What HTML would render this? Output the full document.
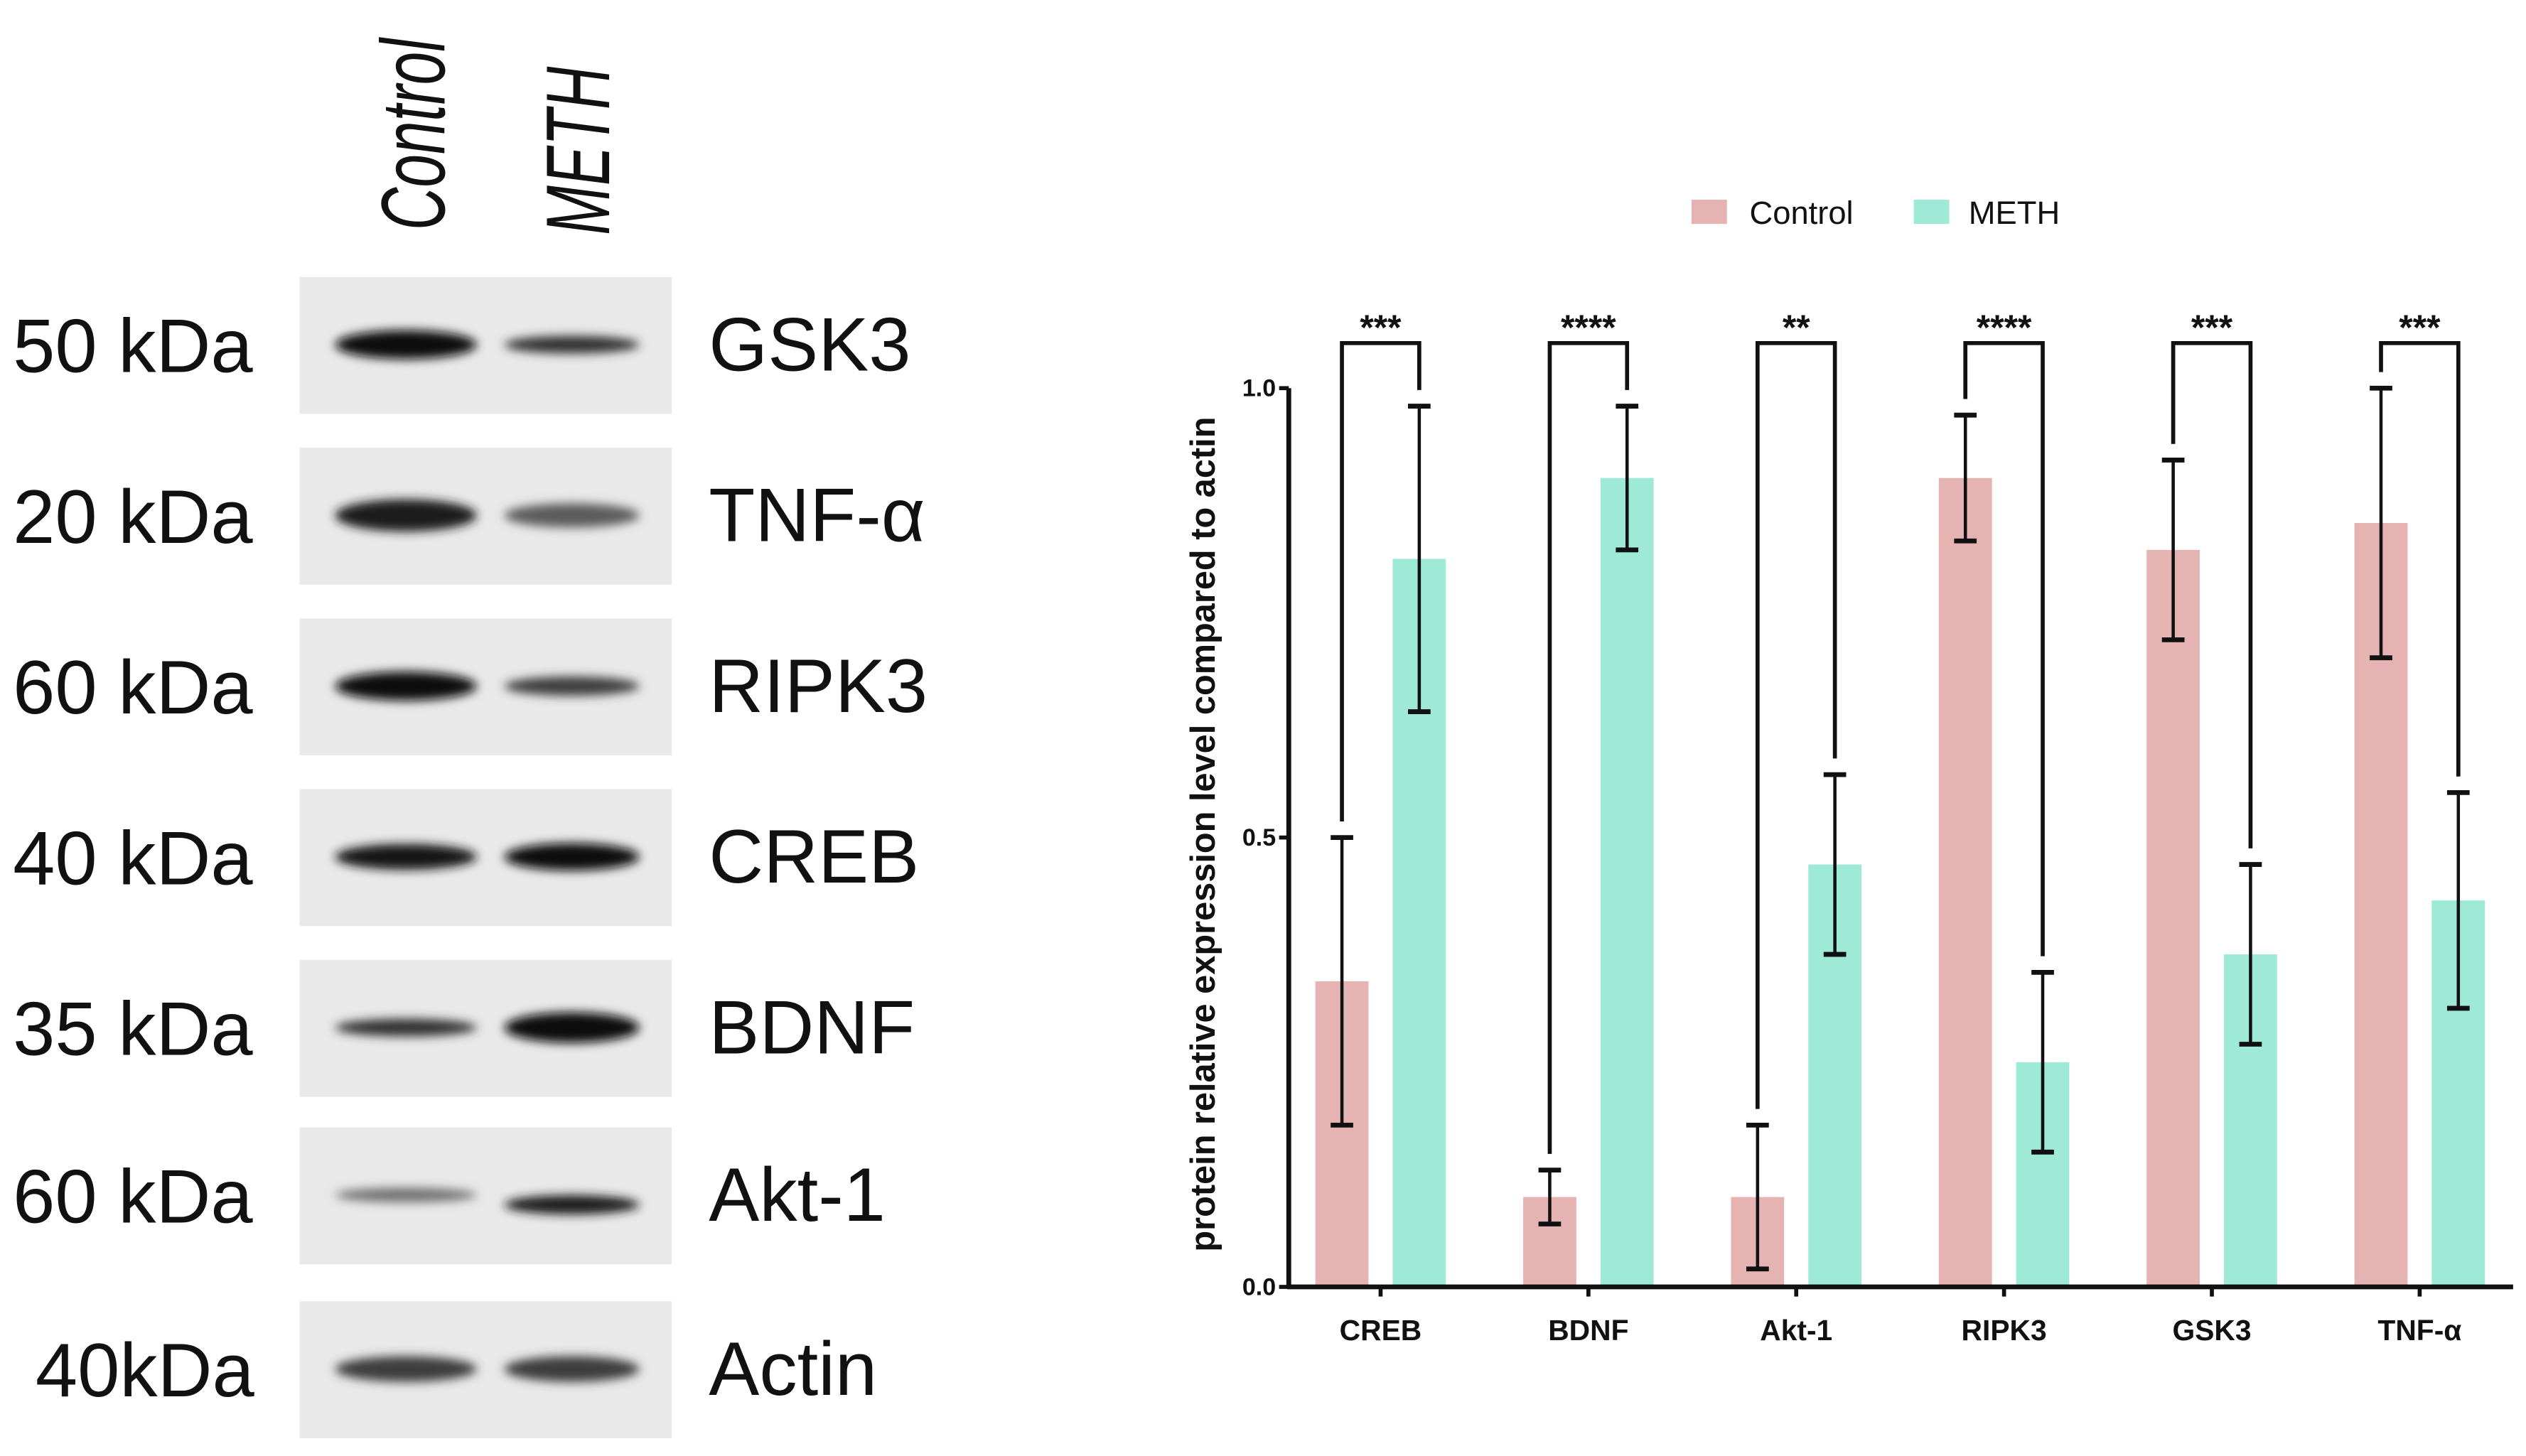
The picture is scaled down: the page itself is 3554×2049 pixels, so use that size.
<!DOCTYPE html>
<html><head><meta charset="utf-8"><style>
html,body{margin:0;padding:0;background:#fff;}
svg{display:block;}
</style></head><body>
<svg id="fig" width="3554" height="2049" viewBox="0 0 1568 904" preserveAspectRatio="none" xmlns="http://www.w3.org/2000/svg" font-family="Liberation Sans, Arial, sans-serif">
<defs>
<filter id="blur" x="-30%" y="-100%" width="160%" height="300%"><feGaussianBlur stdDeviation="3"/></filter>
</defs>
<g id="blot">
<text transform="translate(276,143) rotate(-90) scale(0.66,1)" font-size="56" font-style="italic" fill="#111">Control</text>
<text transform="translate(378,146) rotate(-90) scale(0.66,1)" font-size="56" font-style="italic" fill="#111">METH</text>
</g>
<g id="chart"></g>
<script>
const categories = ["CREB","BDNF","Akt-1","RIPK3","GSK3","TNF-α"];
const controlValues = [0.34,0.10,0.10,0.90,0.82,0.85];
const methValues = [0.81,0.90,0.47,0.25,0.37,0.43];
const controlErr = [0.16,0.03,0.08,0.07,0.10,0.15];
const methErr = [0.17,0.08,0.10,0.10,0.10,0.12];
const sigLabels = ["***","****","**","****","***","***"];
const yTicks = [0.0,0.5,1.0];
const yTickLabels = ["0.0","0.5","1.0"];
const blotProteins = ["GSK3","TNF-α","RIPK3","CREB","BDNF","Akt-1","Actin"];
const blotWeights = ["50 kDa","20 kDa","60 kDa","40 kDa","35 kDa","60 kDa","40kDa"];
const ctrlIntensity = [0.95,0.85,0.95,0.9,0.75,0.45,0.7];
const methIntensity = [0.75,0.55,0.7,0.95,0.95,0.85,0.7];

const NS="http://www.w3.org/2000/svg";
function mk(parent,tag,attrs,text){const e=document.createElementNS(NS,tag);for(const k in attrs)e.setAttribute(k,attrs[k]);if(text!==undefined)e.textContent=text;parent.appendChild(e);return e;}

// ---- blot ----
const blot=document.getElementById('blot');
const rowTops=[172,278,384,490,596,700,808];
const bandThick=[[16,9],[18,13],[16,10],[14,15],[9,17],[7,10],[14,14]];
blotProteins.forEach((p,i)=>{
  const t=rowTops[i];
  const r=mk(blot,'rect',{x:186,y:t,width:231,height:85,fill:'#e9e9e9'});
  
  
  const cy=t+42;
  const c=Math.round(255*(1-ctrlIntensity[i])*0.8), m=Math.round(255*(1-methIntensity[i])*0.8);
  const b1=mk(blot,'ellipse',{cx:252,cy:cy,rx:44,ry:bandThick[i][0]/2+1,fill:`rgb(${c},${c},${c})`,filter:'url(#blur)'});
  
  
  const b2=mk(blot,'ellipse',{cx:355,cy:cy+(i===5?6:0),rx:42,ry:bandThick[i][1]/2+1,fill:`rgb(${m},${m},${m})`,filter:'url(#blur)'});
  
  
  const w=mk(blot,'text',{x:i===6?22:8,y:cy+17,'font-size':47,fill:'#111'},blotWeights[i]);
  
  
  const pl=mk(blot,'text',{x:440,y:cy+16,'font-size':47,fill:'#111'},p);
  
  
});

// ---- chart ----
const g=document.getElementById('chart');
const X0=800,X1=1560,Y0=799,Y1=241;
const y=v=>Y0-(Y0-Y1)*v;
const cx=i=>857+129*i;
const BW=33, OFF=24;
const pink='#e6b3b3', teal='#9eead6';

// legend
let e=mk(g,'rect',{x:1050,y:124,width:22,height:15,fill:pink});


e=mk(g,'text',{x:1086,y:139,'font-size':20,fill:'#111'},'Control');


e=mk(g,'rect',{x:1188,y:124,width:22,height:15,fill:teal});


e=mk(g,'text',{x:1222,y:139,'font-size':20,fill:'#111'},'METH');



// bars
categories.forEach((c,i)=>{
  const xc=cx(i)-OFF, xm=cx(i)+OFF;
  let b=mk(g,'rect',{x:xc-BW/2,y:y(controlValues[i]),width:BW,height:Y0-y(controlValues[i]),fill:pink});
  
  
  b=mk(g,'rect',{x:xm-BW/2,y:y(methValues[i]),width:BW,height:Y0-y(methValues[i]),fill:teal});
  
  
  [[xc,controlValues[i],controlErr[i]],[xm,methValues[i],methErr[i]]].forEach(([x,v,er],k)=>{
    const eg=mk(g,'g',{stroke:'#111','stroke-width':2,fill:'none'});
    
    
    mk(eg,'line',{x1:x,x2:x,y1:y(v-er),y2:y(v+er)});
    mk(eg,'line',{x1:x-7,x2:x+7,y1:y(v+er),y2:y(v+er),'stroke-width':3});
    mk(eg,'line',{x1:x-7,x2:x+7,y1:y(v-er),y2:y(v-er),'stroke-width':3});
  });
  const top=213;
  const lc=y(controlValues[i]+controlErr[i])-10, lm=y(methValues[i]+methErr[i])-10;
  const br=mk(g,'path',{d:`M${xc},${lc} V${top} H${xm} V${lm}`,stroke:'#111','stroke-width':2.5,fill:'none'});
  
  
  const st=mk(g,'text',{x:cx(i),y:211,'font-size':22,'font-weight':'bold','text-anchor':'middle',fill:'#111'},sigLabels[i]);
  
  
  const xl=mk(g,'text',{x:cx(i),y:832,'font-size':18,'font-weight':'bold','text-anchor':'middle',fill:'#111'},c);
  
  
  mk(g,'line',{x1:cx(i),x2:cx(i),y1:Y0,y2:Y0+6,stroke:'#111','stroke-width':2.5});
});

// axes
e=mk(g,'line',{x1:X0,x2:X0,y1:Y1,y2:Y0+1,stroke:'#111','stroke-width':3});


e=mk(g,'line',{x1:X0-1,x2:X1,y1:Y0,y2:Y0,stroke:'#111','stroke-width':3});


yTicks.forEach((t,i)=>{
  mk(g,'line',{x1:X0-6,x2:X0,y1:y(t),y2:y(t),stroke:'#111','stroke-width':2.5});
  const tl=mk(g,'text',{x:X0-8,y:y(t)+5,'font-size':15,'font-weight':'bold','text-anchor':'end',fill:'#111'},yTickLabels[i]);
  
  
});
e=mk(g,'text',{transform:'translate(754,518) rotate(-90)','font-size':21.5,'font-weight':'bold','text-anchor':'middle',fill:'#111'},'protein relative expression level compared to actin');


</script>
</svg>
</body></html>
